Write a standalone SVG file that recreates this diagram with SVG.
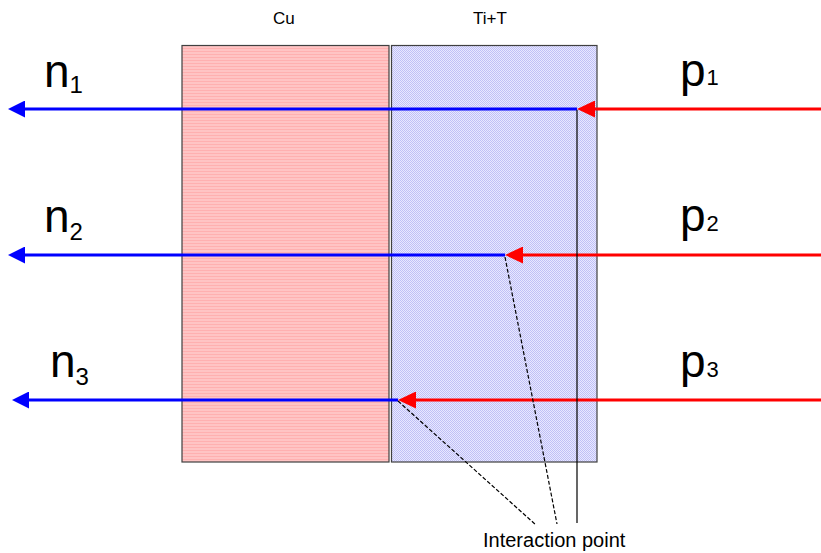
<svg xmlns="http://www.w3.org/2000/svg" width="821" height="553" viewBox="0 0 821 553">
<style>
.lbl{font-family:"Liberation Sans",Arial,sans-serif;fill:#000}
.big{font-size:46px}
.subn{font-size:24px}
.subp{font-size:22px}
.small{font-size:17px}
.box{stroke:#404040;stroke-width:1.2}
.red{stroke:#ff0000;stroke-width:3;fill:none}
.blue{stroke:#0000ff;stroke-width:3;fill:none}
.lead{stroke:#000;stroke-width:1.2;fill:none}
.dash{stroke-dasharray:4 2}
</style>
<defs>
<pattern id="pinkStripe" width="4" height="3" patternUnits="userSpaceOnUse">
<rect width="4" height="3" fill="#ffc4c4"/>
<rect width="4" height="1" fill="#ffb0b0"/>
</pattern>
<pattern id="blueCheck" width="2" height="2" patternUnits="userSpaceOnUse">
<rect width="2" height="2" fill="#e8e8ff"/>
<rect width="1" height="1" fill="#c0c0f6"/>
<rect x="1" y="1" width="1" height="1" fill="#c0c0f6"/>
</pattern>
<marker id="arrRed" viewBox="0 0 18 17" refX="0" refY="8.5" markerWidth="18" markerHeight="17" markerUnits="userSpaceOnUse" orient="auto">
<path d="M0,0 L18,8.5 L0,17 Z" fill="#ff0000"/>
</marker>
<marker id="arrBlue" viewBox="0 0 17 17" refX="0" refY="8.5" markerWidth="17" markerHeight="17" markerUnits="userSpaceOnUse" orient="auto">
<path d="M0,0 L17,8.5 L0,17 Z" fill="#0000ff"/>
</marker>
</defs>

<g id="cu">
<rect class="box" x="182" y="45.5" width="207" height="416.5" fill="url(#pinkStripe)"/>
<text class="lbl small" x="273" y="24">Cu</text>
</g>
<g id="tit">
<rect class="box" x="391.5" y="45.5" width="205.5" height="416.5" fill="url(#blueCheck)"/>
<text class="lbl small" x="473" y="24">Ti+T</text>
</g>

<g id="connectors">
<path class="blue" d="M577,109 H25" marker-end="url(#arrBlue)"/>
<path class="red" d="M821,109 H595" marker-end="url(#arrRed)"/>
<path class="blue" d="M505,255 H25" marker-end="url(#arrBlue)"/>
<path class="red" d="M821,255 H523" marker-end="url(#arrRed)"/>
<path class="blue" d="M398,400 H29" marker-end="url(#arrBlue)"/>
<path class="red" d="M821,400 H416" marker-end="url(#arrRed)"/>
<path class="lead" d="M577,110 V523"/>
<path class="lead dash" d="M505,257 L557,524"/>
<path class="lead dash" d="M398,401 L536,525"/>
</g>

<g id="n1"><text class="lbl big" x="44" y="87">n<tspan class="subn" dy="6">1</tspan></text></g>
<g id="n2"><text class="lbl big" x="44" y="232">n<tspan class="subn" dy="8">2</tspan></text></g>
<g id="n3"><text class="lbl big" x="50" y="377">n<tspan class="subn" dy="8">3</tspan></text></g>
<g id="p1"><text class="lbl big" x="680" y="86">p<tspan class="subp" dx="1" dy="-1">1</tspan></text></g>
<g id="p2"><text class="lbl big" x="680" y="231">p<tspan class="subp" dx="1" dy="0">2</tspan></text></g>
<g id="p3"><text class="lbl big" x="680" y="377">p<tspan class="subp" dx="1" dy="0">3</tspan></text></g>
<g id="interaction"><text class="lbl" style="font-size:20px" x="483" y="547">Interaction point</text></g>
</svg>
